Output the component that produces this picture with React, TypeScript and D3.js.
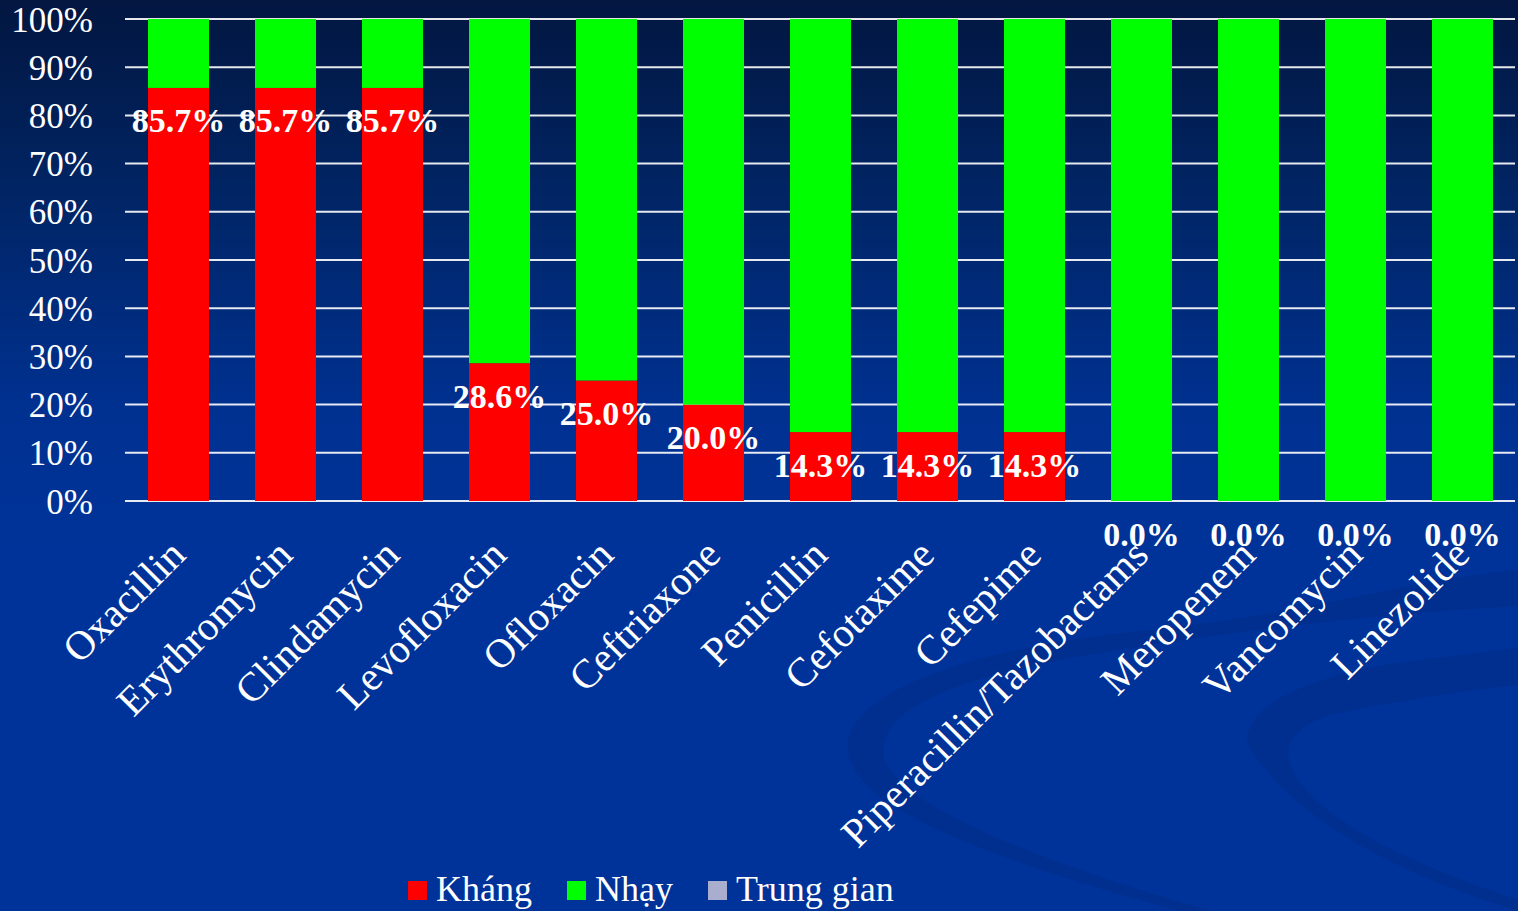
import React, { useEffect } from "react";
import * as d3 from "d3";

// Antibiotic susceptibility: share of isolates that are resistant / sensitive / intermediate
const categories = [
  "Oxacillin",
  "Erythromycin",
  "Clindamycin",
  "Levofloxacin",
  "Ofloxacin",
  "Ceftriaxone",
  "Penicillin",
  "Cefotaxime",
  "Cefepime",
  "Piperacillin/Tazobactams",
  "Meropenem",
  "Vancomycin",
  "Linezolide",
];
const khang = [85.7, 85.7, 85.7, 28.6, 25.0, 20.0, 14.3, 14.3, 14.3, 0.0, 0.0, 0.0, 0.0];
const nhay = [14.3, 14.3, 14.3, 71.4, 75.0, 80.0, 85.7, 85.7, 85.7, 100, 100, 100, 100];
const trungGian = [0, 0, 0, 0, 0, 0, 0, 0, 0, 0, 0, 0, 0];
const yTicks = [0, 10, 20, 30, 40, 50, 60, 70, 80, 90, 100];
const seriesNames = ["Kháng", "Nhạy", "Trung gian"];
const seriesColors = ["#ff0000", "#00ff00", "#a9aecf"];

const W = 1518;
const H = 911;
const FONT = "'Liberation Serif', 'Times New Roman', serif";

export default function App() {
  useEffect(() => {
    document.body.style.margin = "0";
  }, []);

  const x = d3.scaleBand<string>().domain(categories).range([125, 1516]).paddingInner(0.43).paddingOuter(0.215);
  const y = d3.scaleLinear().domain([0, 100]).range([501, 19]);

  const rows = categories.map((c, i) => ({ c, k: khang[i], n: nhay[i], t: trungGian[i] }));
  const stack = d3.stack<any>().keys(["k", "n", "t"])(rows);

  const bw = x.bandwidth();

  return (
    <svg width={W} height={H} style={{ display: "block", position: "absolute", left: 0, top: 0 }} fontFamily={FONT}>
      <defs>
        <linearGradient id="bg" x1="0" y1="0" x2="0" y2="1">
          <stop offset="0" stopColor="#021640" />
          <stop offset="0.2" stopColor="#012462" />
          <stop offset="0.45" stopColor="#003191" />
          <stop offset="0.6" stopColor="#003399" />
          <stop offset="1" stopColor="#003399" />
        </linearGradient>
      </defs>
      <rect x={0} y={0} width={W} height={H} fill="url(#bg)" />

      {/* decorative swooshes in the lower right */}
      <g fill="#002c88" opacity={0.5}>
        <path d="M850,760 C830,700 950,650 1150,630 C1300,615 1420,578 1518,570 L1518,606 C1420,612 1300,622 1150,645 C990,668 870,700 885,760 C900,800 1000,850 1210,911 L1180,911 C990,860 865,810 850,760 Z" />
        <path d="M1248,745 C1240,700 1330,670 1420,660 C1470,654 1500,650 1518,648 L1518,685 C1470,690 1400,700 1330,715 C1290,728 1280,750 1295,775 C1330,830 1430,870 1518,900 L1518,911 C1420,880 1300,830 1248,745 Z" />
      </g>

      {/* gridlines */}
      <g>
        {yTicks.map((t) => (
          <line key={t} x1={125} x2={1515} y1={y(t)} y2={y(t)} stroke="#ffffff" strokeWidth={2} opacity={0.9} />
        ))}
      </g>

      {/* stacked bars */}
      <g>
        {stack.map((s, si) =>
          s.map((d, i) => {
            const h = y(d[0]) - y(d[1]);
            if (h <= 0) return null;
            return (
              <rect
                key={`${si}-${i}`}
                x={x(categories[i])!}
                y={y(d[1])}
                width={bw}
                height={h}
                fill={seriesColors[si]}
              />
            );
          })
        )}
      </g>

      {/* y-axis tick labels */}
      <g fill="#ffffff" fontSize={35} textAnchor="end">
        {yTicks.map((t) => (
          <text key={t} x={93} y={y(t) + 1} dominantBaseline="central">
            {t}%
          </text>
        ))}
      </g>

      {/* data labels for resistant share */}
      <g fill="#ffffff" fontSize={34} fontWeight="bold" textAnchor="middle">
        {khang.map((v, i) => (
          <text key={i} x={x(categories[i])! + bw / 2} y={y(v) + 33} dominantBaseline="central">
            {v.toFixed(1)}%
          </text>
        ))}
      </g>

      {/* category labels */}
      <g fill="#ffffff" fontSize={41} textAnchor="end">
        {categories.map((c) => {
          const cx = x(c)! + bw / 2 + 9;
          const cy = 557;
          return (
            <text key={c} x={cx} y={cy} transform={`rotate(-45 ${cx} ${cy})`}>
              {c}
            </text>
          );
        })}
      </g>

      {/* legend */}
      <g fontSize={36} fill="#ffffff">
        {seriesNames.map((n, i) => {
          const lx = [408, 567, 708][i];
          return (
            <g key={n}>
              <rect x={lx} y={881} width={19} height={19} fill={seriesColors[i]} />
              <text x={lx + 28} y={901}>
                {n}
              </text>
            </g>
          );
        })}
      </g>
    </svg>
  );
}
